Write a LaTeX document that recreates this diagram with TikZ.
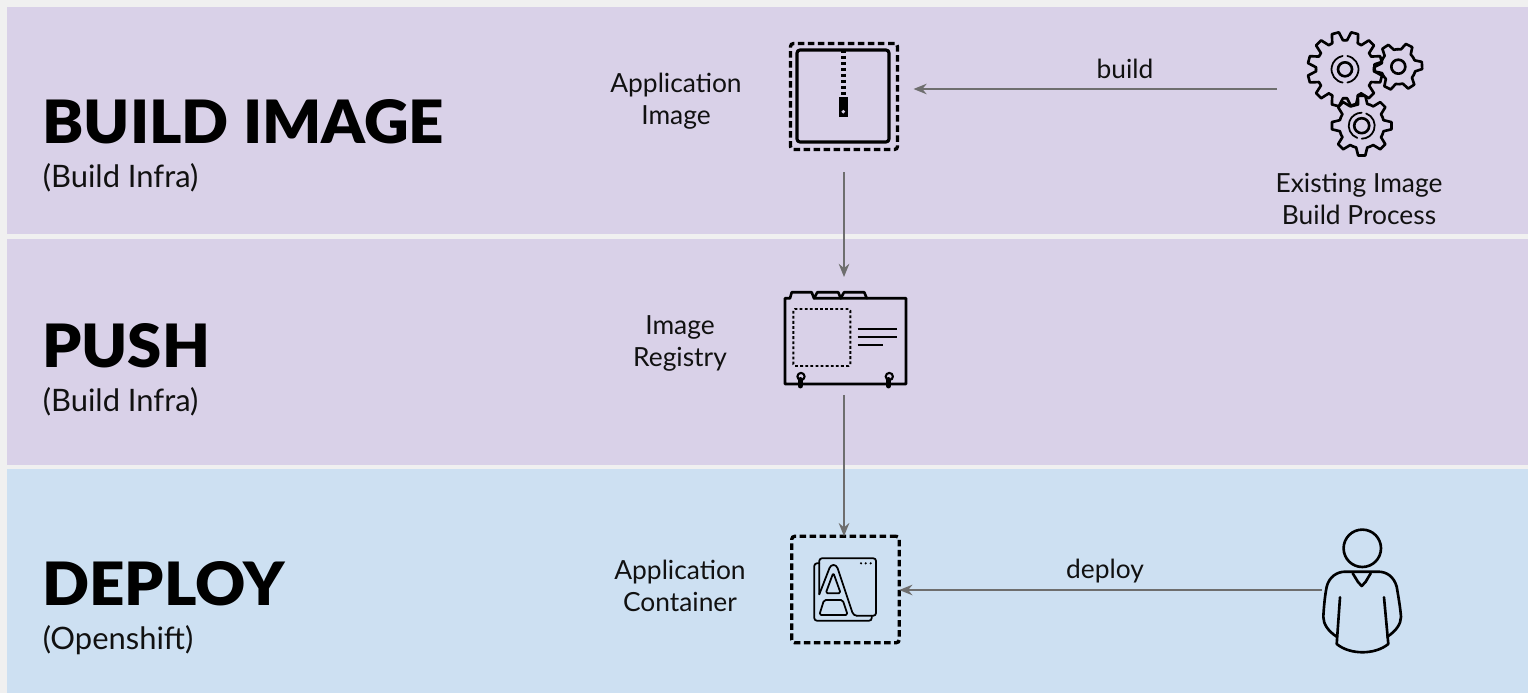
\documentclass[tikz,border=0pt]{standalone}
\usepackage{fontspec}
\setmainfont{Lato}
\newfontfamily\headfont[FakeStretch=1.035]{Lato Black}
\usepackage{tikz}
\usetikzlibrary{arrows.meta, positioning}

\definecolor{pagegray}{HTML}{F0F0F0}
\definecolor{bandpurple}{HTML}{D9D1E8}
\definecolor{bandblue}{HTML}{CDE0F2}
\definecolor{flowgray}{HTML}{6E6E6E}
\definecolor{inkblack}{HTML}{111111}

\tikzset{
    stagehead/.style={anchor=base west, inner sep=0pt, text=black, font=\headfont\fontsize{34}{36}\selectfont},
    stagesub/.style={anchor=base west, inner sep=0pt, text=inkblack, font=\fontsize{17.6}{20}\selectfont},
    iconlabel/.style={align=center, inner sep=0pt, text=inkblack, font=\fontsize{15}{18.2}\selectfont},
    iconspot/.style={inner sep=0pt, outer sep=0pt},
    dashbox/.style={iconspot, draw=black, line width=1.9pt, rounded corners=1.7pt, dash pattern=on 3.7pt off 2pt},
    flow/.style={draw=flowgray, line width=1.1pt, -{Stealth[length=7.5pt, width=6pt]}},
    ink/.style={draw=black, line width=1.5pt, line join=round, line cap=round},
    thinink/.style={draw=black, line width=1pt, line join=round, line cap=round}
}

% one gear: centre x, centre y, outer radius, inner radius, teeth, turn
\newcommand{\geardraw}[6]{
    \foreach \tooth in {1,...,#5} {
        \pgfmathsetmacro{\gearstep}{360/#5}
        \pgfmathsetmacro{\gearang}{\tooth*\gearstep+#6}
        \pgfmathsetmacro{\gearout}{deg(3.6/#3)}
        \pgfmathsetmacro{\gearin}{deg(5.6/#4)}
        \draw[ink, xshift=#1*0.02cm, yshift=-#2*0.02cm, x=0.02cm, y=0.02cm]
            (\gearang-0.5*\gearstep:#4) -- (\gearang-\gearin:#4)
            -- (\gearang-\gearout:#3) -- (\gearang+\gearout:#3)
            -- (\gearang+\gearin:#4) -- (\gearang+0.5*\gearstep:#4);
    }
}

\begin{document}
\begin{tikzpicture}[x=0.02cm, y=-0.02cm]
    \useasboundingbox (0, 0) rectangle (1528, 693);

    % Bands
    \fill[pagegray] (0, 0) rectangle (1528, 693);
    \fill[bandpurple] (7, 7) rectangle (1528, 234);
    \fill[bandpurple] (7, 239) rectangle (1528, 465);
    \fill[bandblue] (7, 469) rectangle (1528, 693);

    % Stage titles
    \node[stagehead] (buildhead) at (42, 143) {BUILD IMAGE};
    \node[stagesub] (buildsub) at (42.5, 187) {(Build Infra)};
    \node[stagehead] (pushhead) at (42, 367) {PUSH};
    \node[stagesub] (pushsub) at (42.5, 411) {(Build Infra)};
    \node[stagehead] (deployhead) at (42, 605) {DEPLOY};
    \node[stagesub] (deploysub) at (42.5, 649) {(Openshift)};

    % Icon labels
    \node[iconlabel] (imagelabel) at (676, 101) {Application\\Image};
    \node[iconlabel] (registrylabel) at (680, 343) {Image\\Registry};
    \node[iconlabel] (containerlabel) at (680, 586) {Application\\Container};
    \node[iconlabel] (gearlabel) at (1359, 198.5) {Existing Image\\Build Process};

    % Icon spots the arrows attach to
    \node[dashbox, minimum width=2.14cm, minimum height=2.12cm] (appimage) at (844, 96.5) {};
    \node[iconspot, minimum width=2.42cm, minimum height=1.84cm] (registry) at (845.5, 338) {};
    \node[dashbox, minimum width=2.15cm, minimum height=2.13cm] (appcontainer) at (845.5, 589.5) {};
    \node[iconspot, minimum width=2.92cm, minimum height=2.4cm] (gears) at (1350, 89) {};
    \node[iconspot, minimum width=1.6cm, minimum height=2.4cm] (person) at (1362, 590) {};

    % Application image
    \draw[ink, line width=1.8pt, rounded corners=1.7pt] (797, 50) rectangle (889, 142);
    \draw[black, line width=2.8pt, dash pattern=on 1.9pt off 1.5pt] (843.3, 50) -- (843.3, 95);
    \fill[black] (839, 97) rectangle (848.3, 117);
    \fill[bandpurple] (843.3, 111.7) circle (1.9);

    % Gears
    \geardraw{1345}{69.3}{37.5}{29}{12}{15}
    \geardraw{1398.3}{66.7}{24}{17.5}{6}{3}
    \geardraw{1361.7}{125.7}{30}{22.5}{8}{0}
    \draw[ink] (1345, 69.3) circle (7);
    \draw[ink] (1398.3, 66.7) circle (7);
    \draw[ink] (1361.7, 125.7) circle (7.5);
    \draw[thinink] (1345, 69.3) ++(100:13.5) arc[start angle=100, end angle=260, radius=13.5];
    \draw[thinink] (1345, 69.3) ++(280:13.5) arc[start angle=280, end angle=440, radius=13.5];
    \draw[thinink] (1361.7, 125.7) ++(110:13) arc[start angle=110, end angle=270, radius=13];
    \draw[thinink] (1361.7, 125.7) ++(290:13) arc[start angle=290, end angle=450, radius=13];

    % Image registry
    \draw[ink] (785, 384) -- (785, 298.3) -- (790, 298.3) -- (791.7, 292.3) -- (811.7, 292.3) -- (814, 298.3)
        -- (906, 298.3) -- (906, 384) -- cycle;
    \draw[ink] (814, 298.3) -- (817.3, 292.3) -- (838.3, 292.3) -- (840.7, 298.3);
    \draw[ink] (840.7, 298.3) -- (844, 292.3) -- (864.3, 292.3) -- (866.7, 298.3);
    \draw[black, line width=1.1pt, dash pattern=on 1.6pt off 1.3pt, rounded corners=1pt] (793.3, 309) rectangle (850.3, 366);
    \draw[ink, line width=1.6pt, line cap=butt] (857.7, 329) -- (897, 329);
    \draw[ink, line width=1.6pt, line cap=butt] (857.7, 337) -- (897, 337);
    \draw[ink, line width=1.6pt, line cap=butt] (857.7, 345) -- (882.7, 345);
    \foreach \ringx in {801, 889.3} {
        \draw[ink, line width=1.2pt] (\ringx, 376.5) circle (3.6);
        \draw[black, line width=2.8pt, line cap=round] (\ringx-0.8, 379.5) -- (\ringx-0.8, 386);
    }

    % Application container
    \draw[thinink, rounded corners=1.5pt] (819.3, 594.3) -- (819.3, 558.3) -- (876, 558.3) -- (876, 615.7) -- (856.7, 615.7);
    \draw[thinink, rounded corners=1.5pt] (819.3, 563.3) -- (814.3, 563.3) -- (814.3, 620.7) -- (871.7, 620.7) -- (871.7, 615.7);
    \draw[thinink] (819.3, 594.3) -- (829.5, 568) .. controls (831, 564) and (836, 564) .. (837.5, 568)
        -- (852.3, 612.3) .. controls (853, 614.5) and (855, 615.7) .. (856.7, 615.7);
    \draw[thinink, rounded corners=1pt] (833.3, 572.7) -- (825.7, 593.3) -- (840.7, 593.3) -- cycle;
    \draw[thinink, rounded corners=1pt] (824, 600) -- (842.7, 600) -- (847.7, 615) -- (819.3, 615) -- cycle;
    \foreach \dotx in {861, 865.7, 870.7} {
        \fill[black] (\dotx, 563.3) circle (1.2);
    }

    % Person
    \draw[ink] (1362.3, 548.3) circle (18.7);
    \draw[ink] (1336.7, 636.7) .. controls (1328, 631) and (1323.3, 624) .. (1323.3, 616.7)
        .. controls (1324, 605) and (1325, 595) .. (1326.7, 586.7)
        .. controls (1329, 577) and (1337, 571.7) .. (1345, 571.7)
        -- (1378.3, 571.7)
        .. controls (1387, 571.7) and (1394, 577) .. (1396.7, 586.7)
        .. controls (1398, 595) and (1400, 605) .. (1401, 616.7)
        .. controls (1401, 624) and (1396, 631) .. (1387.3, 636.7);
    \draw[ink] (1352.7, 573.3) -- (1358, 582) -- (1361.7, 586) -- (1365.5, 582) -- (1370.7, 573.3);
    \draw[ink] (1340, 597.3) -- (1336.7, 644) .. controls (1350, 655) and (1375, 655) .. (1388.3, 644) -- (1384, 597.3);

    % Flow arrows
    \draw[flow, shorten >=16*0.02cm] (gears.west) -- (appimage.east |- gears.west);
    \draw[flow, shorten <=23*0.02cm, shorten >=15*0.02cm] (appimage.south) -- (appimage.south |- registry.north);
    \draw[flow, shorten <=11*0.02cm] (appimage.south |- registry.south) -- (appimage.south |- appcontainer.north);
    \draw[flow] (person.west) -- (appcontainer.east |- person.west);

    % Flow labels
    \node[iconlabel] (buildtag) at (1125, 68.5) {build};
    \node[iconlabel] (deploytag) at (1105, 571) {deploy};
\end{tikzpicture}
\end{document}
